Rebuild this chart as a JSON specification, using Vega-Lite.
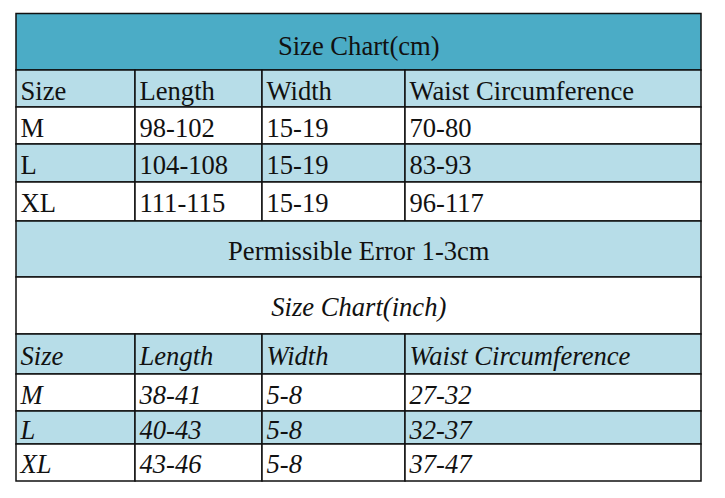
{
  "$schema": "https://vega.github.io/schema/vega-lite/v6.json",
  "width": 725,
  "height": 498,
  "autosize": {"type": "fit", "contains": "padding"},
  "padding": 0,
  "background": "#ffffff",
  "view": {"stroke": null},
  "config": {"axis": {"disable": true}, "legend": {"disable": true}, "font": "Liberation Serif", "text": {"font": "Liberation Serif"}},
  "data": {
    "values": [
      {"row": 0, "rowEnd": 1, "col": 0, "colEnd": 4, "kind": "title", "unit": "cm", "shade": "dark", "text": "Size Chart(cm)"},
      {"row": 1, "rowEnd": 2, "col": 0, "colEnd": 1, "kind": "cell", "unit": "cm", "shade": "light", "text": "Size"},
      {"row": 1, "rowEnd": 2, "col": 1, "colEnd": 2, "kind": "cell", "unit": "cm", "shade": "light", "text": "Length"},
      {"row": 1, "rowEnd": 2, "col": 2, "colEnd": 3, "kind": "cell", "unit": "cm", "shade": "light", "text": "Width"},
      {"row": 1, "rowEnd": 2, "col": 3, "colEnd": 4, "kind": "cell", "unit": "cm", "shade": "light", "text": "Waist Circumference"},
      {"row": 2, "rowEnd": 3, "col": 0, "colEnd": 1, "kind": "cell", "unit": "cm", "shade": "white", "text": "M"},
      {"row": 2, "rowEnd": 3, "col": 1, "colEnd": 2, "kind": "cell", "unit": "cm", "shade": "white", "text": "98-102"},
      {"row": 2, "rowEnd": 3, "col": 2, "colEnd": 3, "kind": "cell", "unit": "cm", "shade": "white", "text": "15-19"},
      {"row": 2, "rowEnd": 3, "col": 3, "colEnd": 4, "kind": "cell", "unit": "cm", "shade": "white", "text": "70-80"},
      {"row": 3, "rowEnd": 4, "col": 0, "colEnd": 1, "kind": "cell", "unit": "cm", "shade": "light", "text": "L"},
      {"row": 3, "rowEnd": 4, "col": 1, "colEnd": 2, "kind": "cell", "unit": "cm", "shade": "light", "text": "104-108"},
      {"row": 3, "rowEnd": 4, "col": 2, "colEnd": 3, "kind": "cell", "unit": "cm", "shade": "light", "text": "15-19"},
      {"row": 3, "rowEnd": 4, "col": 3, "colEnd": 4, "kind": "cell", "unit": "cm", "shade": "light", "text": "83-93"},
      {"row": 4, "rowEnd": 5, "col": 0, "colEnd": 1, "kind": "cell", "unit": "cm", "shade": "white", "text": "XL"},
      {"row": 4, "rowEnd": 5, "col": 1, "colEnd": 2, "kind": "cell", "unit": "cm", "shade": "white", "text": "111-115"},
      {"row": 4, "rowEnd": 5, "col": 2, "colEnd": 3, "kind": "cell", "unit": "cm", "shade": "white", "text": "15-19"},
      {"row": 4, "rowEnd": 5, "col": 3, "colEnd": 4, "kind": "cell", "unit": "cm", "shade": "white", "text": "96-117"},
      {"row": 5, "rowEnd": 6, "col": 0, "colEnd": 4, "kind": "title", "unit": "cm", "shade": "light", "text": "Permissible Error 1-3cm"},
      {"row": 6, "rowEnd": 7, "col": 0, "colEnd": 4, "kind": "title", "unit": "inch", "shade": "white", "text": "Size Chart(inch)"},
      {"row": 7, "rowEnd": 8, "col": 0, "colEnd": 1, "kind": "cell", "unit": "inch", "shade": "light", "text": "Size"},
      {"row": 7, "rowEnd": 8, "col": 1, "colEnd": 2, "kind": "cell", "unit": "inch", "shade": "light", "text": "Length"},
      {"row": 7, "rowEnd": 8, "col": 2, "colEnd": 3, "kind": "cell", "unit": "inch", "shade": "light", "text": "Width"},
      {"row": 7, "rowEnd": 8, "col": 3, "colEnd": 4, "kind": "cell", "unit": "inch", "shade": "light", "text": "Waist Circumference"},
      {"row": 8, "rowEnd": 9, "col": 0, "colEnd": 1, "kind": "cell", "unit": "inch", "shade": "white", "text": "M"},
      {"row": 8, "rowEnd": 9, "col": 1, "colEnd": 2, "kind": "cell", "unit": "inch", "shade": "white", "text": "38-41"},
      {"row": 8, "rowEnd": 9, "col": 2, "colEnd": 3, "kind": "cell", "unit": "inch", "shade": "white", "text": "5-8"},
      {"row": 8, "rowEnd": 9, "col": 3, "colEnd": 4, "kind": "cell", "unit": "inch", "shade": "white", "text": "27-32"},
      {"row": 9, "rowEnd": 10, "col": 0, "colEnd": 1, "kind": "cell", "unit": "inch", "shade": "light", "text": "L"},
      {"row": 9, "rowEnd": 10, "col": 1, "colEnd": 2, "kind": "cell", "unit": "inch", "shade": "light", "text": "40-43"},
      {"row": 9, "rowEnd": 10, "col": 2, "colEnd": 3, "kind": "cell", "unit": "inch", "shade": "light", "text": "5-8"},
      {"row": 9, "rowEnd": 10, "col": 3, "colEnd": 4, "kind": "cell", "unit": "inch", "shade": "light", "text": "32-37"},
      {"row": 10, "rowEnd": 11, "col": 0, "colEnd": 1, "kind": "cell", "unit": "inch", "shade": "white", "text": "XL"},
      {"row": 10, "rowEnd": 11, "col": 1, "colEnd": 2, "kind": "cell", "unit": "inch", "shade": "white", "text": "43-46"},
      {"row": 10, "rowEnd": 11, "col": 2, "colEnd": 3, "kind": "cell", "unit": "inch", "shade": "white", "text": "5-8"},
      {"row": 10, "rowEnd": 11, "col": 3, "colEnd": 4, "kind": "cell", "unit": "inch", "shade": "white", "text": "37-47"}
    ]
  },
  "resolve": {"scale": {"y": "independent"}},
  "layer": [
    {
      "mark": {"type": "rect", "stroke": "#111111", "strokeWidth": 1.5},
      "encoding": {
        "x": {"field": "col", "type": "quantitative", "scale": {"domain": [0, 1, 2, 3, 4], "range": [16, 135, 262, 405, 701], "nice": false, "zero": false}},
        "x2": {"field": "colEnd"},
        "y": {"field": "row", "type": "quantitative", "scale": {"domain": [0, 1, 2, 3, 4, 5, 6, 7, 8, 9, 10, 11], "range": [13.5, 70, 107, 144, 182, 221, 277, 334, 374, 411, 444, 481], "nice": false, "zero": false}},
        "y2": {"field": "rowEnd"},
        "color": {"field": "shade", "type": "nominal", "scale": {"domain": ["dark", "light", "white"], "range": ["#4bacc6", "#b7dde8", "#ffffff"]}}
      }
    },
    {
      "layer": [
        {
          "transform": [{"filter": "datum.kind === 'cell' && datum.unit === 'cm'"}],
          "mark": {"type": "text", "font": "Liberation Serif", "fontSize": 26.6, "align": "left", "baseline": "middle", "dx": 4.5, "color": "#111111"},
          "encoding": {
            "x": {"field": "col", "type": "quantitative"},
            "y": {"field": "row", "type": "quantitative"},
            "text": {"field": "text"}
          }
        },
        {
          "transform": [{"filter": "datum.kind === 'cell' && datum.unit === 'inch'"}],
          "mark": {"type": "text", "font": "Liberation Serif", "fontStyle": "italic", "fontSize": 26.6, "align": "left", "baseline": "middle", "dx": 4.5, "color": "#111111"},
          "encoding": {
            "x": {"field": "col", "type": "quantitative"},
            "y": {"field": "row", "type": "quantitative"},
            "text": {"field": "text"}
          }
        },
        {
          "transform": [{"filter": "datum.kind === 'title' && datum.unit === 'cm'"}],
          "mark": {"type": "text", "font": "Liberation Serif", "fontSize": 26.6, "align": "center", "baseline": "middle", "dx": -3.7, "color": "#111111"},
          "encoding": {
            "x": {"value": {"expr": "width/2"}},
            "y": {"field": "row", "type": "quantitative"},
            "text": {"field": "text"}
          }
        },
        {
          "transform": [{"filter": "datum.kind === 'title' && datum.unit === 'inch'"}],
          "mark": {"type": "text", "font": "Liberation Serif", "fontStyle": "italic", "fontSize": 26.6, "align": "center", "baseline": "middle", "dx": -3.7, "color": "#111111"},
          "encoding": {
            "x": {"value": {"expr": "width/2"}},
            "y": {"field": "row", "type": "quantitative"},
            "text": {"field": "text"}
          }
        }
      ],
      "encoding": {
        "y": {"field": "row", "type": "quantitative", "scale": {"domain": [0, 1, 2, 3, 4, 5, 6, 7, 8, 9, 10], "range": [46.8, 91.6, 128.8, 166.1, 203.6, 251.8, 308.3, 357.1, 395.5, 430.5, 464.8], "nice": false, "zero": false}}
      }
    }
  ]
}
